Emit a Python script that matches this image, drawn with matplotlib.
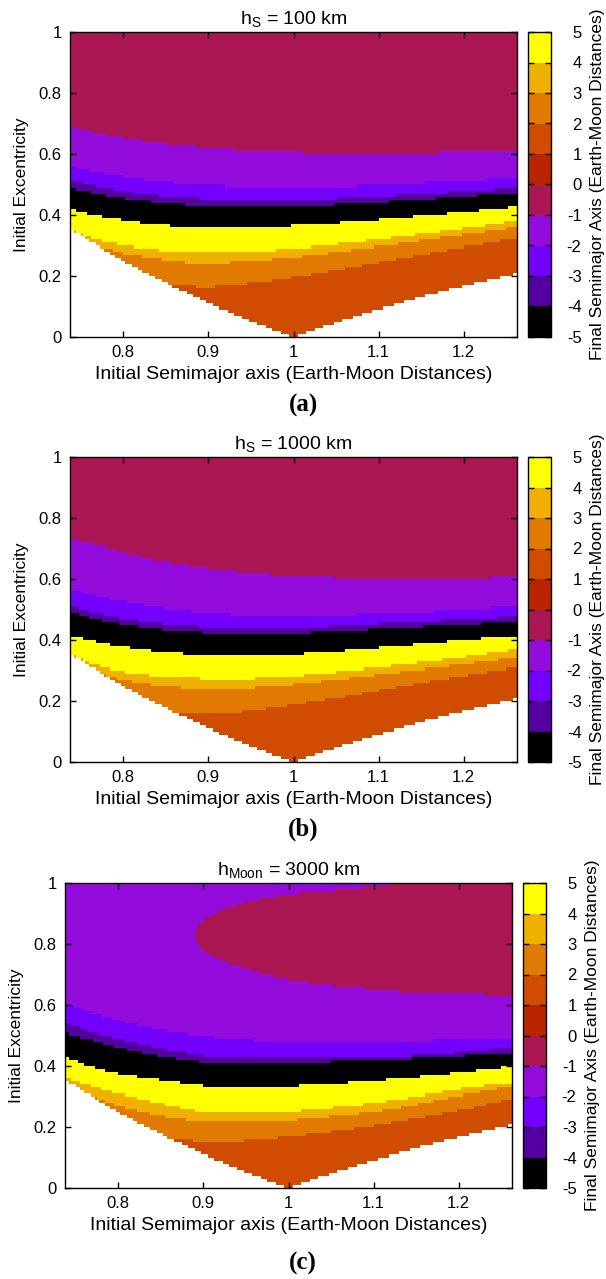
import numpy as np
import matplotlib
matplotlib.use('Agg')
import matplotlib.pyplot as plt
from matplotlib.colors import ListedColormap, BoundaryNorm

plt.rcParams['font.family'] = ['Liberation Sans', 'DejaVu Sans']
plt.rcParams['mathtext.fontset'] = 'custom'
plt.rcParams['mathtext.rm'] = 'Liberation Sans'
plt.rcParams['mathtext.it'] = 'Liberation Sans:italic'

# colour scale of the final semimajor axis
cb_levels = [-5, -4, -3, -2, -1, 0, 1, 2, 3, 4, 5]
cb_colors = ['#000000', '#5400a0', '#7300fd', '#930cdc', '#aa1752',
             '#b82400', '#d04c00', '#e07a00', '#f0b000', '#ffff00']

# value given to each band, from the top band down
band_vals = [-0.5, -1.5, -2.5, -3.5, -4.5, 4.5, 3.5, 2.5, 1.5]

knots_a = [0.74, 0.76, 0.78, 0.80, 0.83, 0.86, 0.90, 0.94, 0.98,
           1.00, 1.02, 1.06, 1.10, 1.14, 1.18, 1.22, 1.26]

# lower edge of the map (white below), same for all panels
white_e = [0.351, 0.316, 0.282, 0.250, 0.205, 0.163, 0.111, 0.064, 0.020,
           0.000, 0.020, 0.057, 0.091, 0.123, 0.153, 0.180, 0.206]

# ---- panel (a), h_S = 100 km : band edges (excentricity) ----
a_b1 = [0.690, 0.677, 0.665, 0.655, 0.642, 0.632, 0.621, 0.613, 0.608,
        0.606, 0.604, 0.601, 0.600, 0.602, 0.606, 0.609, 0.612]
a_b2 = [0.558, 0.545, 0.534, 0.525, 0.513, 0.505, 0.498, 0.492, 0.489,
        0.488, 0.489, 0.493, 0.498, 0.503, 0.508, 0.514, 0.519]
a_b3 = [0.512, 0.500, 0.488, 0.479, 0.468, 0.461, 0.453, 0.450, 0.449,
        0.449, 0.450, 0.456, 0.462, 0.468, 0.475, 0.482, 0.490]
a_b4 = [0.489, 0.476, 0.465, 0.456, 0.446, 0.437, 0.431, 0.429, 0.428,
        0.428, 0.430, 0.437, 0.443, 0.450, 0.457, 0.466, 0.474]
a_b5 = [0.418, 0.404, 0.392, 0.384, 0.371, 0.364, 0.360, 0.358, 0.360,
        0.366, 0.368, 0.376, 0.385, 0.395, 0.405, 0.416, 0.427]
a_b6 = [0.350, 0.326, 0.312, 0.300, 0.288, 0.281, 0.279, 0.278, 0.285,
        0.290, 0.295, 0.307, 0.320, 0.334, 0.348, 0.363, 0.380]
a_b7 = [0.320, 0.305, 0.290, 0.275, 0.262, 0.247, 0.240, 0.248, 0.256,
        0.262, 0.268, 0.282, 0.297, 0.312, 0.328, 0.343, 0.359]
a_b8 = [0.210, 0.200, 0.190, 0.186, 0.183, 0.168, 0.163, 0.173, 0.187,
        0.196, 0.205, 0.225, 0.245, 0.265, 0.285, 0.304, 0.323]

# ---- panel (b), h_S = 1000 km ----
b_b1 = [0.730, 0.718, 0.705, 0.688, 0.668, 0.652, 0.635, 0.623, 0.613,
        0.611, 0.610, 0.603, 0.600, 0.600, 0.601, 0.603, 0.610]
b_b2 = [0.565, 0.550, 0.537, 0.527, 0.512, 0.500, 0.490, 0.482, 0.479,
        0.478, 0.479, 0.483, 0.488, 0.492, 0.497, 0.503, 0.510]
b_b3 = [0.510, 0.495, 0.483, 0.472, 0.460, 0.450, 0.443, 0.440, 0.440,
        0.440, 0.442, 0.448, 0.455, 0.460, 0.466, 0.472, 0.478]
b_b4 = [0.490, 0.474, 0.462, 0.452, 0.440, 0.430, 0.424, 0.422, 0.422,
        0.423, 0.425, 0.430, 0.437, 0.443, 0.449, 0.455, 0.462]
b_b5 = [0.415, 0.400, 0.388, 0.378, 0.366, 0.356, 0.352, 0.351, 0.351,
        0.352, 0.357, 0.365, 0.375, 0.385, 0.395, 0.405, 0.415]
b_b6 = [0.350, 0.325, 0.308, 0.296, 0.285, 0.278, 0.274, 0.273, 0.278,
        0.282, 0.287, 0.298, 0.310, 0.323, 0.337, 0.352, 0.368]
b_b7 = [0.320, 0.300, 0.285, 0.270, 0.256, 0.246, 0.240, 0.242, 0.250,
        0.255, 0.261, 0.273, 0.287, 0.300, 0.314, 0.328, 0.342]
b_b8 = [0.210, 0.200, 0.190, 0.184, 0.175, 0.163, 0.158, 0.165, 0.180,
        0.188, 0.197, 0.215, 0.235, 0.255, 0.274, 0.292, 0.310]

# ---- panel (c), h_Moon = 3000 km (no b1: purple on top) ----
c_b2 = [0.602, 0.582, 0.565, 0.550, 0.530, 0.513, 0.498, 0.488, 0.482,
        0.480, 0.480, 0.480, 0.480, 0.482, 0.486, 0.489, 0.490]
c_b3 = [0.540, 0.520, 0.503, 0.490, 0.470, 0.454, 0.435, 0.431, 0.430,
        0.430, 0.430, 0.430, 0.431, 0.434, 0.441, 0.452, 0.460]
c_b4 = [0.507, 0.492, 0.477, 0.462, 0.443, 0.428, 0.413, 0.410, 0.410,
        0.410, 0.412, 0.416, 0.419, 0.424, 0.431, 0.437, 0.442]
c_b5 = [0.428, 0.405, 0.388, 0.375, 0.362, 0.350, 0.335, 0.333, 0.333,
        0.333, 0.336, 0.343, 0.351, 0.361, 0.372, 0.385, 0.398]
c_b6 = [0.360, 0.340, 0.325, 0.309, 0.290, 0.272, 0.250, 0.248, 0.248,
        0.251, 0.256, 0.267, 0.279, 0.295, 0.315, 0.332, 0.343]
c_b7 = [0.330, 0.310, 0.290, 0.270, 0.250, 0.232, 0.218, 0.218, 0.218,
        0.222, 0.228, 0.238, 0.251, 0.268, 0.290, 0.313, 0.333]
c_b8 = [0.210, 0.205, 0.198, 0.190, 0.175, 0.160, 0.153, 0.153, 0.163,
        0.169, 0.175, 0.188, 0.205, 0.225, 0.245, 0.267, 0.291]
# magenta island of panel (c): lower and upper edge
mag_a = [0.889, 0.896, 0.905, 0.919, 0.932, 0.955, 0.977, 1.005, 1.023,
         1.068, 1.131, 1.200, 1.260]
mag_lo = [0.830, 0.790, 0.769, 0.749, 0.734, 0.714, 0.698, 0.682, 0.675,
          0.660, 0.645, 0.637, 0.633]
mag_hi = [0.830, 0.867, 0.889, 0.908, 0.921, 0.938, 0.952, 0.963, 0.968,
          0.978, 1.000, 1.000, 1.000]

titles = [r'h$_\mathrm{S}$ = 100 km', r'h$_\mathrm{S}$ = 1000 km',
          r'h$_\mathrm{Moon}$ = 3000 km']
letters = ['(a)', '(b)', '(c)']
xticks = [0.8, 0.9, 1.0, 1.1, 1.2]
xtick_labels = ['0.8', '0.9', '1', '1.1', '1.2']
yticks = [0, 0.2, 0.4, 0.6, 0.8, 1.0]
ytick_labels = ['0', '0.2', '0.4', '0.6', '0.8', '1']

# grid of the map: fine in a, 0.01 in e
a_edges = np.arange(0.7375, 1.26251, 0.0025)
e_edges = np.linspace(0, 1, 101)
a_c = 0.5 * (a_edges[1:] + a_edges[:-1])
e_c = 0.5 * (e_edges[1:] + e_edges[:-1])
A, E = np.meshgrid(a_c, e_c)


def build_field(bounds, vals, top_val, island=None):
    Z = np.full(A.shape, top_val)
    if island is not None:
        lo = np.interp(A, mag_a, island[0])
        hi = np.interp(A, mag_a, island[1])
        Z = np.where((E > lo) & (E < hi), -0.5, Z)
    for b, v in zip(bounds, vals):
        B = np.interp(A, knots_a, b)
        Z = np.where(E < B, v, Z)
    W = np.interp(A, knots_a, white_e)
    Z = np.where(E < W, np.nan, Z)
    return np.ma.masked_invalid(Z)


fields = [
    build_field([a_b1, a_b2, a_b3, a_b4, a_b5, a_b6, a_b7, a_b8], band_vals[1:], band_vals[0]),
    build_field([b_b1, b_b2, b_b3, b_b4, b_b5, b_b6, b_b7, b_b8], band_vals[1:], band_vals[0]),
    build_field([c_b2, c_b3, c_b4, c_b5, c_b6, c_b7, c_b8], band_vals[2:], band_vals[1],
                island=(mag_lo, mag_hi)),
]

cmap = ListedColormap(cb_colors)
cmap.set_bad('white')
norm = BoundaryNorm(cb_levels, cmap.N)

fig = plt.figure(figsize=(6.06, 12.79), dpi=100)
W_px, H_px = 606.0, 1279.0

# pixel boxes (left, top, right, bottom) of the plots
boxes = [(70, 32, 517, 337), (70, 457, 517, 762), (65, 883, 512, 1188)]
letter_y = [405, 829, 1263]

for i in range(3):
    l, t, r, b = boxes[i]
    ax = fig.add_axes([l / W_px, 1 - b / H_px, (r - l) / W_px, (b - t) / H_px])
    mesh = ax.pcolormesh(a_edges, e_edges, fields[i], cmap=cmap, norm=norm,
                         shading='flat', rasterized=True)
    ax.set_xlim(0.7375, 1.2625)
    ax.set_ylim(0, 1)
    ax.set_xticks(xticks)
    ax.set_xticklabels(xtick_labels)
    ax.set_yticks(yticks)
    ax.set_yticklabels(ytick_labels)
    ax.tick_params(direction='in', top=True, right=True, length=4,
                   width=1, labelsize=12, pad=6)
    for s in ax.spines.values():
        s.set_linewidth(1)
    ax.set_xlabel('Initial Semimajor axis (Earth-Moon Distances)', fontsize=14, labelpad=4)
    ax.set_ylabel('Initial Excentricity', fontsize=12.5, labelpad=7)
    ax.set_title(titles[i], fontsize=14, pad=6)

    # colour bar
    cl = r + 11
    cax = fig.add_axes([cl / W_px, 1 - b / H_px, 23 / W_px, (b - t) / H_px])
    cb = fig.colorbar(mesh, cax=cax, ticks=cb_levels)
    cb.outline.set_linewidth(1)
    cax.tick_params(direction='in', left=True, right=True, length=4, width=1,
                    labelsize=12, pad=22)
    cax.set_yticklabels([str(v) for v in cb_levels])
    for lab in cax.get_yticklabels():
        lab.set_horizontalalignment('right')
    cb.set_label('Final Semimajor Axis (Earth-Moon Distances)', fontsize=12.5, labelpad=6)

    fig.text(0.5, 1 - letter_y[i] / H_px, letters[i], ha='center', va='center',
             fontsize=18, fontweight='bold', family='Liberation Serif')

fig.savefig('out.png', dpi=100)
